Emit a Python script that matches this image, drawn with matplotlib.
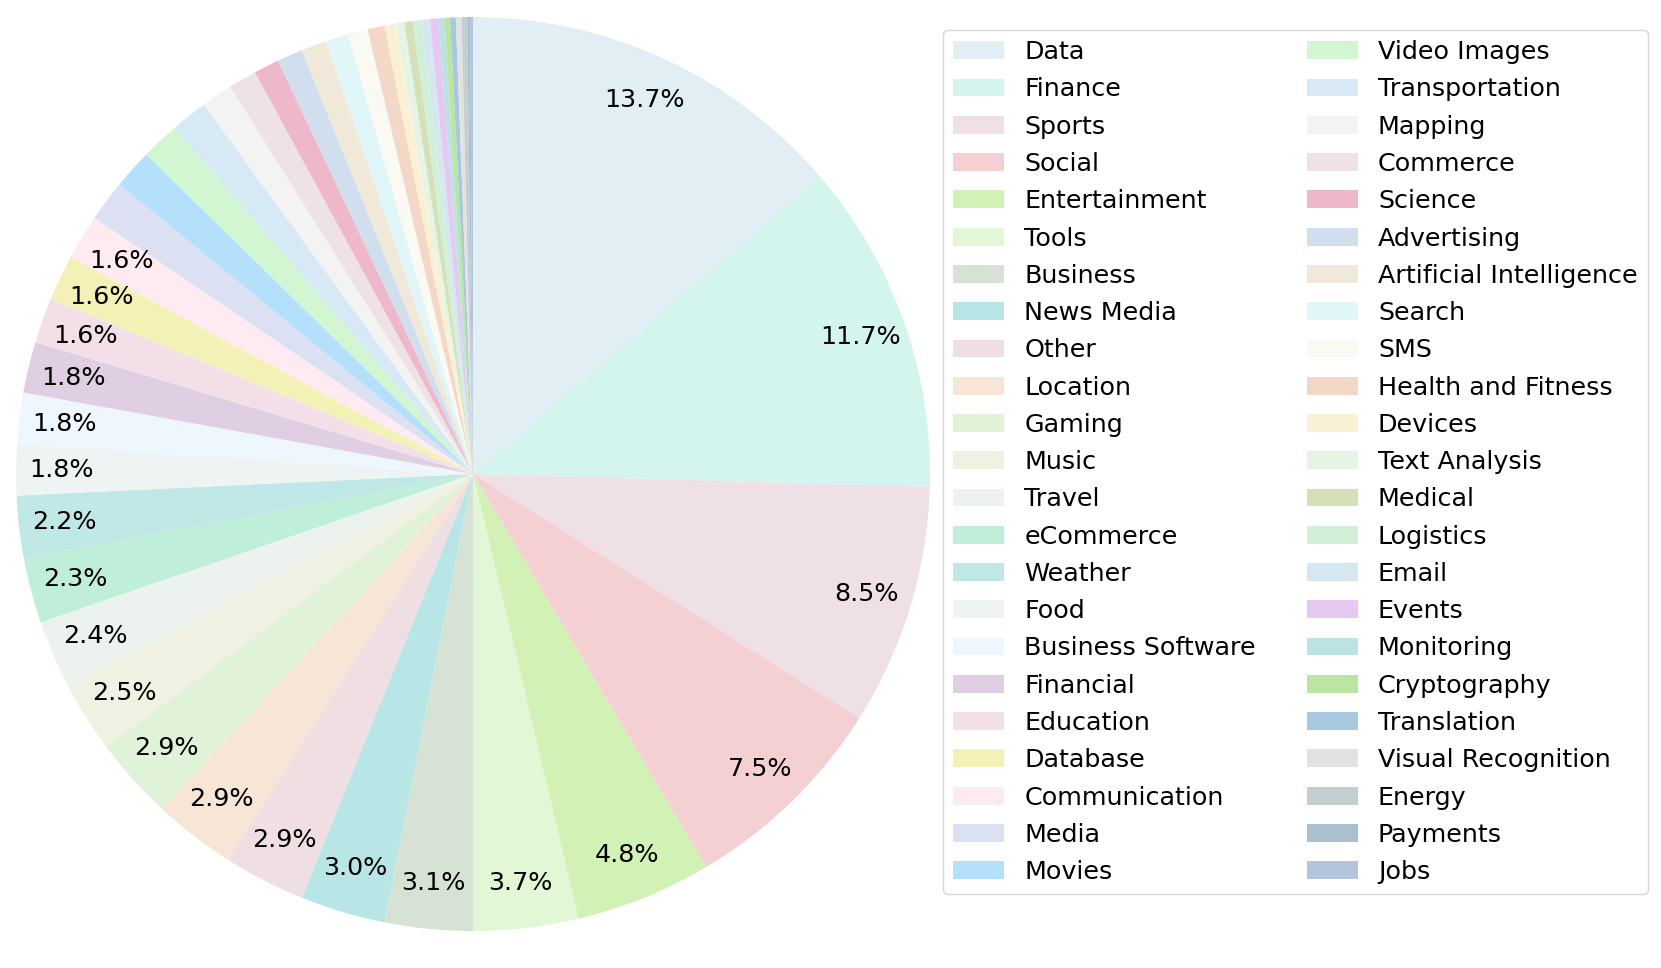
import matplotlib
matplotlib.use("Agg")
import matplotlib.pyplot as plt

categories = [
    "Data", "Finance", "Sports", "Social", "Entertainment", "Tools", "Business",
    "News Media", "Other", "Location", "Gaming", "Music", "Travel", "eCommerce",
    "Weather", "Food", "Business Software", "Financial", "Education", "Database",
    "Communication", "Media", "Movies", "Video Images", "Transportation", "Mapping",
    "Commerce", "Science", "Advertising", "Artificial Intelligence", "Search", "SMS",
    "Health and Fitness", "Devices", "Text Analysis", "Medical", "Logistics", "Email",
    "Events", "Monitoring", "Cryptography", "Translation", "Visual Recognition",
    "Energy", "Payments", "Jobs",
]

shares = [
    13.7, 11.7, 8.5, 7.5, 4.8, 3.7, 3.1,
    3.0, 2.9, 2.9, 2.9, 2.5, 2.4, 2.3,
    2.2, 1.8, 1.8, 1.8, 1.6, 1.6,
    1.6, 1.45, 1.4, 1.35, 1.3, 1.1,
    1.0, 0.9, 0.9, 0.9, 0.8, 0.7,
    0.6, 0.4, 0.3, 0.3, 0.3, 0.3,
    0.3, 0.2, 0.2, 0.2, 0.2,
    0.2, 0.1, 0.1,
]

colors = [
    "#e1eff4", "#d3f5ee", "#efe0e5", "#f5d0d3", "#d1f2b4", "#e1f7d5", "#d6e2d3",
    "#b8e6e6", "#efdfe2", "#f7e6d6", "#e0f3d8", "#f0f0e3", "#ecf3ef", "#c0efd9",
    "#c0e8e6", "#eef4f3", "#eef6fe", "#e0cfe2", "#f2dfe8", "#f4f1b6",
    "#feebf2", "#dbe0f2", "#b4e0fc", "#d3f6d2", "#d6e9f4", "#f3f3f3",
    "#efe2e7", "#efb7ca", "#d0deee", "#f0e8d9", "#e0f6f8", "#fafaf3",
    "#f3d7c7", "#faf1d4", "#e6f4e5", "#d4e0b8", "#d2f0d8", "#d5e7f0",
    "#e5c9f3", "#bce2e1", "#bbe6a0", "#a8c8e0", "#e3e2e0",
    "#c3cfd0", "#a8c0cf", "#b4c4df",
]


def pct_label(p):
    return f"{p:.1f}%" if p >= 1.5 else ""


plt.rcParams["font.size"] = 18.3

fig = plt.figure(figsize=(16.61, 9.68), dpi=100)
ax = fig.add_axes([16 / 1661, 37 / 968, 914 / 1661, 914 / 968])

wedges, texts, autotexts = ax.pie(
    shares,
    colors=colors,
    startangle=90,
    counterclock=False,
    autopct=pct_label,
    pctdistance=0.9,
)
ax.set_xlim(-1, 1)
ax.set_ylim(-1, 1)
ax.set_aspect("equal")

fig.legend(
    wedges, categories,
    loc="upper left",
    bbox_to_anchor=(943 / 1661, 1 - 30 / 968),
    borderaxespad=0,
    ncol=2,
    fontsize=18.3,
    labelspacing=0.522,
)

fig.savefig("out.png", dpi=100)
